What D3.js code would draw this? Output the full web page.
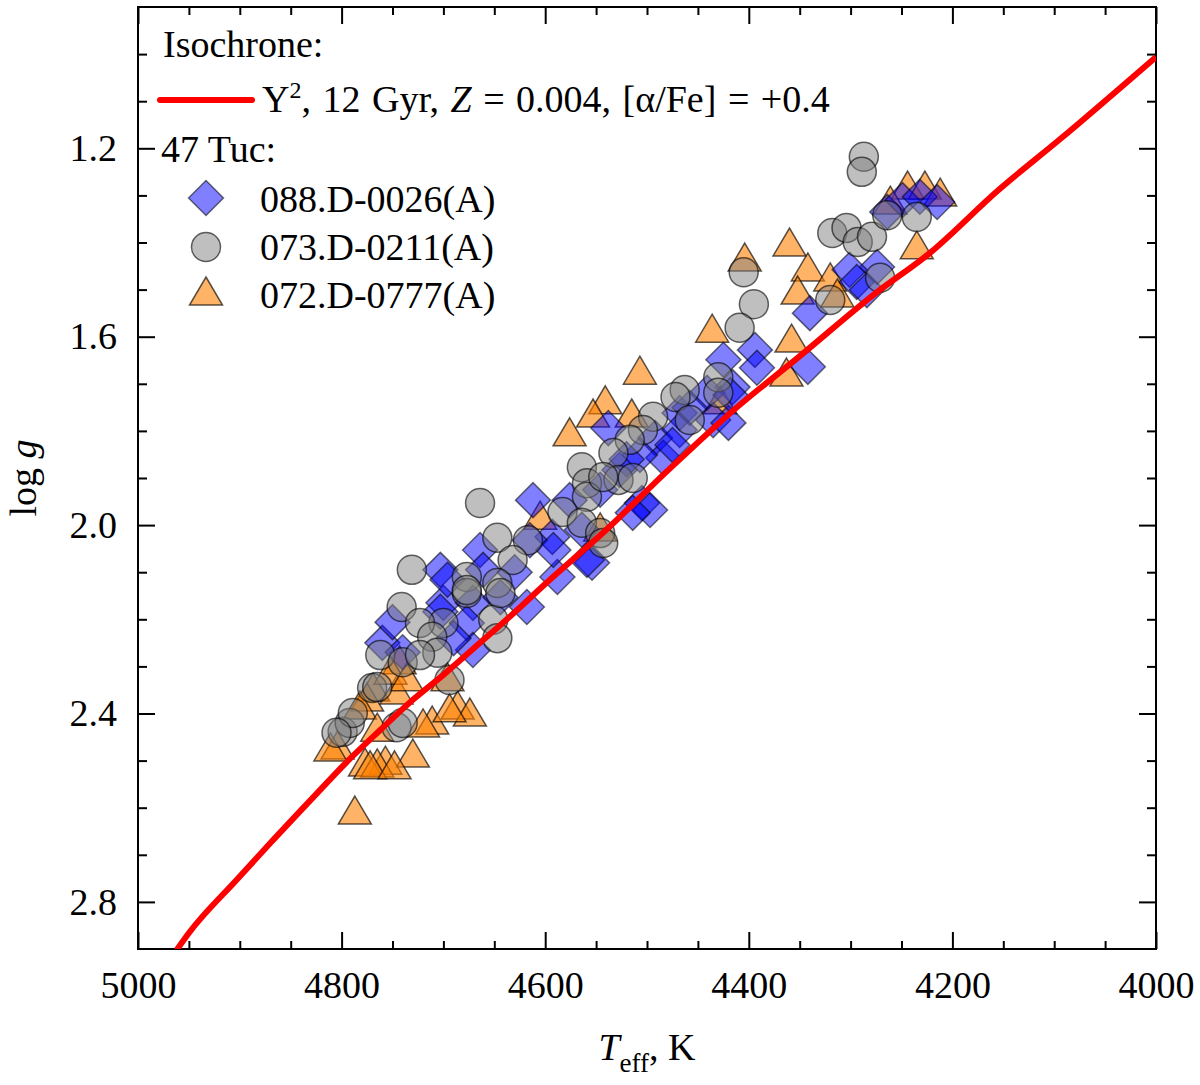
<!DOCTYPE html>
<html>
<head>
<meta charset="utf-8">
<script src="https://cdn.jsdelivr.net/npm/d3@7"></script>
<style>
  body { margin: 0; background: #fff; }
  text { font-family: "Liberation Serif", "Times New Roman", serif; fill: #000; }
</style>
</head>
<body>
<div id="chart"></div>
<script>
"use strict";

// Isochrone (Y2, 12 Gyr, Z = 0.004)
const isoTeff = [4962, 4950, 4903, 4870, 4824, 4795, 4762, 4730, 4700, 4664, 4630, 4600, 4540, 4480, 4415, 4352, 4275, 4222, 4155, 4095, 4000];
const isoLogg = [2.902, 2.866, 2.753, 2.675, 2.569, 2.503, 2.435, 2.371, 2.318, 2.250, 2.185, 2.125, 2.010, 1.885, 1.756, 1.645, 1.507, 1.422, 1.289, 1.182, 1.006];

// 088.D-0026(A) - diamonds
const diaTeff = [4264, 4249, 4232, 4215, 4274, 4301, 4294, 4284, 4340, 4425, 4394, 4392, 4342, 4416, 4441, 4468, 4435, 4420, 4418, 4458,
  4538, 4492, 4484, 4505, 4497, 4514, 4612, 4564, 4554, 4588, 4593, 4615, 4664, 4661, 4703, 4700, 4671, 4618, 4677, 4644,
  4696, 4703, 4760, 4750, 4671, 4559, 4592, 4527, 4546, 4576, 4507, 4468, 4520, 4475, 4630, 4690, 4740];
const diaLogg = [1.335, 1.310, 1.303, 1.314, 1.452, 1.458, 1.484, 1.501, 1.550, 1.649, 1.628, 1.666, 1.664, 1.707, 1.719, 1.762, 1.777, 1.783, 1.724, 1.751,
  1.794, 1.815, 1.857, 1.953, 1.968, 1.974, 1.947, 2.010, 2.080, 2.110, 2.025, 2.032, 2.053, 2.095, 2.095, 2.165, 2.165, 2.174, 2.208, 2.153,
  2.116, 2.184, 2.250, 2.206, 2.265, 2.074, 2.053, 1.883, 1.925, 1.947, 1.851, 1.798, 1.860, 1.830, 2.100, 2.240, 2.270];

// 073.D-0211(A) - circles
const cirTeff = [4287, 4289, 4318, 4304, 4293, 4279, 4264, 4235, 4271, 4405, 4395, 4409, 4320, 4430, 4430, 4463, 4472, 4458, 4494, 4504,
  4517, 4533, 4528, 4514, 4564, 4559, 4559, 4543, 4583, 4564, 4546, 4543, 4617, 4647, 4664, 4632, 4647, 4677, 4677, 4731,
  4741, 4700, 4723, 4651, 4762, 4711, 4740, 4706, 4694, 4770, 4644, 4647, 4677, 4799, 4792, 4789, 4746, 4740, 4723, 4805, 4765];
const cirLogg = [1.218, 1.250, 1.380, 1.369, 1.399, 1.388, 1.342, 1.346, 1.475, 1.463, 1.531, 1.581, 1.522, 1.686, 1.719, 1.713, 1.728, 1.777, 1.770, 1.798,
  1.819, 1.847, 1.904, 1.900, 1.877, 1.911, 1.940, 1.898, 1.972, 1.995, 2.017, 2.038, 2.032, 2.027, 1.953, 2.074, 2.123, 2.110, 2.144, 2.095,
  2.174, 2.208, 2.208, 2.201, 2.276, 2.237, 2.291, 2.271, 2.329, 2.346, 2.144, 2.240, 2.138, 2.439, 2.420, 2.399, 2.429, 2.420, 2.276, 2.441, 2.344];

// 072.D-0777(A) - triangles
const triTeff = [4244, 4227, 4212, 4235, 4360, 4404, 4342, 4320, 4352, 4313, 4436, 4358, 4363, 4507, 4541, 4515, 4261, 4553, 4576, 4428,
  4546, 4605, 4743, 4696, 4769, 4775, 4787, 4686, 4674, 4711, 4720, 4730, 4757, 4777, 4765, 4804, 4782, 4765, 4746, 4752,
  4736, 4811, 4772, 4748, 4694];
const triLogg = [1.278, 1.278, 1.293, 1.405, 1.399, 1.431, 1.452, 1.473, 1.501, 1.507, 1.582, 1.603, 1.675, 1.671, 1.734, 1.762, 1.310, 1.762, 1.802, 1.734,
  2.004, 1.979, 2.286, 2.322, 2.344, 2.365, 2.605, 2.382, 2.397, 2.414, 2.420, 2.484, 2.499, 2.503, 2.505, 2.467, 2.382, 2.429, 2.350, 2.308,
  2.322, 2.471, 2.509, 2.509, 2.388];

// Tick values
const xMajor = [5000, 4800, 4600, 4400, 4200, 4000];
const yMajor = [1.2, 1.6, 2.0, 2.4, 2.8];

const width = 1200;
const height = 1085;
const plot = { left: 138, right: 1156, top: 7, bottom: 949 };
const fontSize = 38;

const svg = d3.select("#chart")
  .append("svg")
  .attr("width", width)
  .attr("height", height)
  .style("display", "block");

// Scales: Teff runs backwards, log g runs downwards
const x = d3.scaleLinear().domain([5000, 4000]).range([plot.left, plot.right]);
const y = d3.scaleLinear().domain([0.9, 2.9]).range([plot.top, plot.bottom]);

const xMinor = d3.range(4950, 4000, -50).filter(v => v % 200 !== 0);
const yMinor = d3.range(10, 29).map(v => v / 10).filter(v => Math.round(v * 10) % 4 !== 0);

// Clip for the data
svg.append("clipPath").attr("id", "clip")
  .append("rect")
  .attr("x", plot.left).attr("y", plot.top)
  .attr("width", plot.right - plot.left).attr("height", plot.bottom - plot.top);

// Axis helper: inward ticks, domain removed
function drawAxis(axis, tx, ty, labels) {
  const g = svg.append("g").attr("transform", `translate(${tx},${ty})`).call(axis);
  g.select(".domain").remove();
  g.selectAll("line").attr("stroke", "#000").attr("stroke-width", 2);
  g.selectAll("text")
    .style("font-family", "'Liberation Serif', 'Times New Roman', serif")
    .style("font-size", fontSize + "px")
    .attr("fill", "#000");
  if (!labels) g.selectAll("text").remove();
  return g;
}

// Bottom / top
drawAxis(d3.axisBottom(x).tickValues(xMajor).tickSize(-17).tickPadding(22).tickFormat(d3.format("d")), 0, plot.bottom, true);
drawAxis(d3.axisBottom(x).tickValues(xMinor).tickSize(-8).tickFormat(""), 0, plot.bottom, false);
drawAxis(d3.axisTop(x).tickValues(xMajor).tickSize(-17).tickFormat(""), 0, plot.top, false);
drawAxis(d3.axisTop(x).tickValues(xMinor).tickSize(-8).tickFormat(""), 0, plot.top, false);
// Left / right
drawAxis(d3.axisLeft(y).tickValues(yMajor).tickSize(-17).tickPadding(21).tickFormat(d3.format(".1f")), plot.left, 0, true);
drawAxis(d3.axisLeft(y).tickValues(yMinor).tickSize(-9).tickFormat(""), plot.left, 0, false);
drawAxis(d3.axisRight(y).tickValues(yMajor).tickSize(-17).tickFormat(""), plot.right, 0, false);
drawAxis(d3.axisRight(y).tickValues(yMinor).tickSize(-9).tickFormat(""), plot.right, 0, false);

// Frame
svg.append("rect")
  .attr("x", plot.left).attr("y", plot.top)
  .attr("width", plot.right - plot.left).attr("height", plot.bottom - plot.top)
  .attr("fill", "none").attr("stroke", "#000").attr("stroke-width", 2);

// Marker shapes
const diamondPath = "M0,-17.5L17.5,0L0,17.5L-17.5,0Z";
const trianglePath = "M0,-14L16.5,14L-16.5,14Z";

const dataLayer = svg.append("g").attr("clip-path", "url(#clip)");

// Triangles first, then diamonds, circles on top
dataLayer.append("g").selectAll("path")
  .data(d3.zip(triTeff, triLogg))
  .join("path")
  .attr("d", trianglePath)
  .attr("transform", d => `translate(${x(d[0])},${y(d[1])})`)
  .attr("fill", "rgb(255,128,0)").attr("fill-opacity", 0.6)
  .attr("stroke", "#000").attr("stroke-opacity", 0.65).attr("stroke-width", 1.5);

dataLayer.append("g").selectAll("path")
  .data(d3.zip(diaTeff, diaLogg))
  .join("path")
  .attr("d", diamondPath)
  .attr("transform", d => `translate(${x(d[0])},${y(d[1])})`)
  .attr("fill", "rgb(0,0,255)").attr("fill-opacity", 0.5)
  .attr("stroke", "#000").attr("stroke-opacity", 0.55).attr("stroke-width", 1.5);

dataLayer.append("g").selectAll("circle")
  .data(d3.zip(cirTeff, cirLogg))
  .join("circle")
  .attr("cx", d => x(d[0]))
  .attr("cy", d => y(d[1]))
  .attr("r", 14.5)
  .attr("fill", "rgb(128,128,128)").attr("fill-opacity", 0.5)
  .attr("stroke", "#000").attr("stroke-opacity", 0.6).attr("stroke-width", 1.5);

// Isochrone line (x increases as Teff falls, so monotone-x is safe)
const line = d3.line().x(d => x(d[0])).y(d => y(d[1])).curve(d3.curveMonotoneX);
dataLayer.append("path")
  .datum(d3.zip(isoTeff, isoLogg))
  .attr("d", line)
  .attr("fill", "none")
  .attr("stroke", "#ff0000")
  .attr("stroke-width", 6);

// Legend
const legend = svg.append("g").style("font-size", fontSize + "px");
legend.append("text").attr("x", 163).attr("y", 57).text("Isochrone:");
legend.append("line")
  .attr("x1", 160).attr("x2", 252).attr("y1", 100).attr("y2", 100)
  .attr("stroke", "#ff0000").attr("stroke-width", 6).attr("stroke-linecap", "round");
const isoText = legend.append("text").attr("x", 262).attr("y", 112).attr("word-spacing", 2);
isoText.append("tspan").text("Y");
isoText.append("tspan").attr("dy", -14).style("font-size", "24px").text("2");
isoText.append("tspan").attr("dy", 14).text(", 12 Gyr, ");
isoText.append("tspan").style("font-style", "italic").text("Z");
isoText.append("tspan").text(" = 0.004, [α/Fe] = +0.4");
legend.append("text").attr("x", 161).attr("y", 162).text("47 Tuc:");

legend.append("path").attr("d", diamondPath).attr("transform", "translate(206,198)")
  .attr("fill", "rgb(0,0,255)").attr("fill-opacity", 0.5)
  .attr("stroke", "#000").attr("stroke-opacity", 0.55).attr("stroke-width", 1.5);
legend.append("circle").attr("cx", 206).attr("cy", 247).attr("r", 14.5)
  .attr("fill", "rgb(128,128,128)").attr("fill-opacity", 0.5)
  .attr("stroke", "#000").attr("stroke-opacity", 0.6).attr("stroke-width", 1.5);
legend.append("path").attr("d", trianglePath).attr("transform", "translate(206,291)")
  .attr("fill", "rgb(255,128,0)").attr("fill-opacity", 0.6)
  .attr("stroke", "#000").attr("stroke-opacity", 0.65).attr("stroke-width", 1.5);
legend.append("text").attr("x", 260).attr("y", 212).text("088.D-0026(A)");
legend.append("text").attr("x", 260).attr("y", 260).text("073.D-0211(A)");
legend.append("text").attr("x", 260).attr("y", 308).text("072.D-0777(A)");

// Axis titles
const xTitle = svg.append("text")
  .attr("x", 647).attr("y", 1060)
  .attr("text-anchor", "middle")
  .style("font-size", fontSize + "px");
xTitle.append("tspan").style("font-style", "italic").text("T");
xTitle.append("tspan").attr("dy", 12).style("font-size", "27px").text("eff");
xTitle.append("tspan").attr("dy", -12).text(", K");

const yTitle = svg.append("text")
  .attr("transform", "translate(36,478) rotate(-90)")
  .attr("text-anchor", "middle")
  .style("font-size", fontSize + "px");
yTitle.append("tspan").text("log ");
yTitle.append("tspan").style("font-style", "italic").text("g");
</script>
</body>
</html>
